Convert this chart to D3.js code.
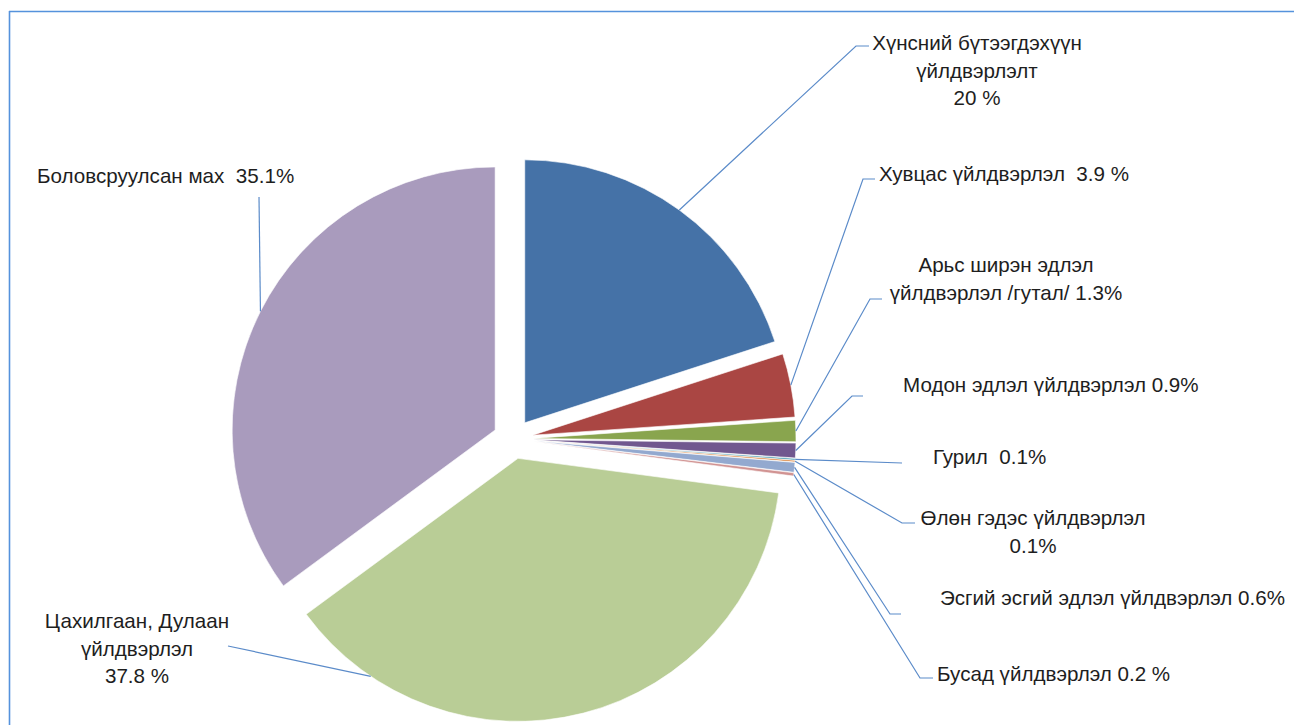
<!DOCTYPE html>
<html>
<head>
    <meta charset="utf-8">
    <title>Pie chart</title>
    <script src="https://d3js.org/d3.v7.min.js"></script>
    <style>
      body { margin: 0; background: #fff; }
      text { font-family: "Liberation Sans", Arial, sans-serif; font-size: 20.6px; fill: #1e1e1e; white-space: pre; }
    </style>
</head>
<body>
<div id="chart"></div>
<script>

// data
var categories = [
  "Хүнсний бүтээгдэхүүн үйлдвэрлэлт",
  "Хувцас үйлдвэрлэл",
  "Арьс ширэн эдлэл үйлдвэрлэл /гутал/",
  "Модон эдлэл үйлдвэрлэл",
  "Гурил",
  "Өлөн гэдэс үйлдвэрлэл",
  "Эсгий эсгий эдлэл үйлдвэрлэл",
  "Бусад үйлдвэрлэл",
  "Цахилгаан, Дулаан үйлдвэрлэл",
  "Боловсруулсан мах"
];
var values = [20, 3.9, 1.3, 0.9, 0.1, 0.1, 0.6, 0.2, 37.8, 35.1];
var colors = ["#4572A7", "#AA4643", "#89A54E", "#71588F", "#4198AF",
              "#DB843D", "#93A9CF", "#D19392", "#B9CD96", "#A99BBD"];
var labelLines = [
  ["Хүнсний бүтээгдэхүүн", "үйлдвэрлэлт", "20 %"],
  ["Хувцас үйлдвэрлэл  3.9 %"],
  ["Арьс ширэн эдлэл", "үйлдвэрлэл /гутал/ 1.3%"],
  ["Модон эдлэл үйлдвэрлэл 0.9%"],
  ["Гурил  0.1%"],
  ["Өлөн гэдэс үйлдвэрлэл", "0.1%"],
  ["Эсгий эсгий эдлэл үйлдвэрлэл 0.6%"],
  ["Бусад үйлдвэрлэл 0.2 %"],
  ["Цахилгаан, Дулаан", "үйлдвэрлэл", "37.8 %"],
  ["Боловсруулсан мах  35.1%"]
];

// label layout (where Excel put each label, and where its leader line bends)
var labelLayout = [
  {x: 977, y: 42,  anchor: "middle", elbow: [856, 46],  end: [869, 46],  at: 0.5},
  {x: 879, y: 173, anchor: "start",  elbow: [863, 179], end: [875, 179], at: 0.5},
  {x: 1006, y: 264, anchor: "middle", elbow: [870, 299], end: [882, 299], at: 0.5},
  {x: 903, y: 384, anchor: "start",  elbow: [852, 396], end: [863, 396], at: 0.5},
  {x: 933, y: 456, anchor: "start",  elbow: [902, 463], end: [902, 463], at: 0.5},
  {x: 1033, y: 517, anchor: "middle", elbow: [902, 523], end: [915, 523], at: 0.5},
  {x: 940, y: 597, anchor: "start",  elbow: [890, 614], end: [901, 614], at: 0.5},
  {x: 937, y: 673, anchor: "start",  elbow: [920, 678], end: [933, 678], at: 0.5},
  {x: 137, y: 620, anchor: "middle", elbow: [228, 646], end: [228, 646], at: 0.856},
  {x: 37,  y: 175, anchor: "start",  elbow: [259, 197], end: [259, 197], at: 0.5}
];

var width = 1294;
var height = 725;
var cx = 513, cy = 439;
var radius = 263;
var explode = 20;
var lineH = 27.5;

var svg = d3.select("#chart")
    .append("svg")
    .attr("width", width)
    .attr("height", height);

// chart area border (only top and left are visible)
svg.append("line")
    .attr("x1", 9).attr("y1", 11.5).attr("x2", width).attr("y2", 11.5)
    .attr("stroke", "#5592dc").attr("stroke-width", 1.6);
svg.append("line")
    .attr("x1", 9.5).attr("y1", 11).attr("x2", 9.5).attr("y2", height)
    .attr("stroke", "#5592dc").attr("stroke-width", 1.6);

var pie = d3.pie().sort(null).value(function(d) { return d; });
var arcs = pie(values);

var arc = d3.arc().innerRadius(0).outerRadius(radius);

function offset(d) {
  var mid = (d.startAngle + d.endAngle) / 2;
  return [cx + explode * Math.sin(mid), cy - explode * Math.cos(mid)];
}

var g = svg.append("g");

g.selectAll("path")
    .data(arcs)
    .enter()
    .append("path")
    .attr("d", arc)
    .attr("transform", function(d) {
      var o = offset(d);
      return "translate(" + o[0] + "," + o[1] + ")";
    })
    .attr("fill", function(d, i) { return colors[i]; })
    .attr("stroke", "#fff")
    .attr("stroke-width", 0.6);

// leader lines
var leaders = svg.append("g");
arcs.forEach(function(d, i) {
  var L = labelLayout[i];
  var o = offset(d);
  var a = d.startAngle + (d.endAngle - d.startAngle) * L.at;
  var p0 = [o[0] + radius * Math.sin(a), o[1] - radius * Math.cos(a)];
  leaders.append("path")
      .attr("d", d3.line()([p0, L.elbow, L.end]))
      .attr("fill", "none")
      .attr("stroke", "#5b8bc9")
      .attr("stroke-width", 1.2);
});

// labels
var labels = svg.append("g");
labelLines.forEach(function(lines, i) {
  var L = labelLayout[i];
  var t = labels.append("text")
      .attr("text-anchor", L.anchor)
      .attr("dominant-baseline", "central")
      .attr("xml:space", "preserve");
  lines.forEach(function(s, k) {
    t.append("tspan")
        .attr("x", L.x)
        .attr("y", L.y + k * lineH)
        .text(s);
  });
});

</script>
</body>
</html>
